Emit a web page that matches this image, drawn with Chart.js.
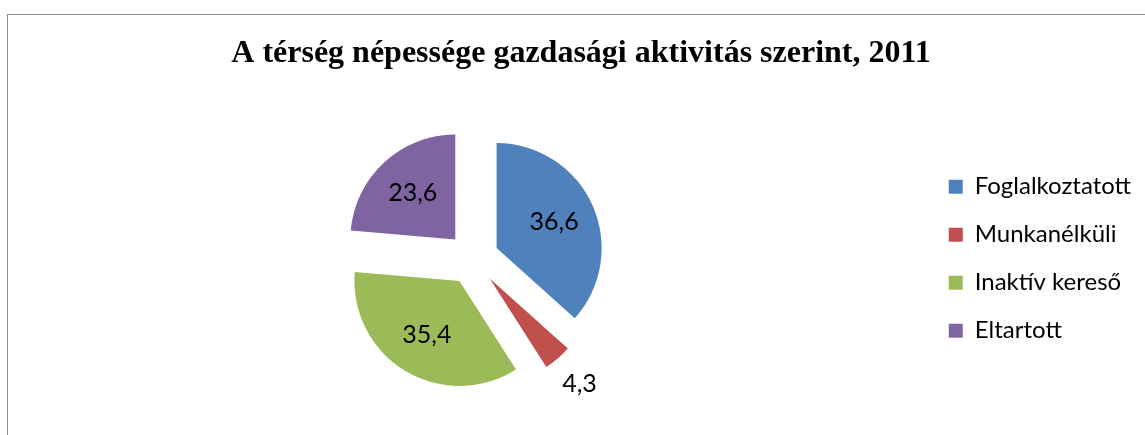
<!DOCTYPE html>
<html>
<head>
<meta charset="utf-8">
<script src="https://cdn.jsdelivr.net/npm/chart.js@4.4.1/dist/chart.umd.min.js"></script>
<style>
  html, body { margin: 0; padding: 0; background: #fff; overflow: hidden; }
  #frame { position: absolute; left: 7px; top: 14px; width: 1160px; height: 440px;
           border-left: 1px solid #8c8c8c; border-top: 1px solid #8c8c8c; }
  #wrap { position: absolute; left: 0; top: 0; width: 1148px; height: 420px; }
</style>
</head>
<body>
<div id="frame"><div id="wrap"><canvas id="chart"></canvas></div></div>
<script>
"use strict";

const chartTitle = 'A térség népessége gazdasági aktivitás szerint, 2011';
const categories = ['Foglalkoztatott', 'Munkanélküli', 'Inaktív kereső', 'Eltartott'];
const shares = [36.6, 4.3, 35.4, 23.6];
const colors = ['#4F81BD', '#C0504D', '#9BBB59', '#8064A2'];

const EXPLODE = 26;
const LABEL_FONT = '25px Lato';

/* format a number the hungarian way (decimal comma). */
const fmt = (v) => v.toFixed(1).replace('.', ',');

/* pulls every slice outward along its mid angle, then writes the values. */
const explodePlugin = {
    id: 'explode',
    beforeDatasetDraw(chart, args) {
        const ctx = chart.ctx;
        args.meta.data.forEach(arc => {
            const mid = (arc.startAngle + arc.endAngle) / 2;
            ctx.save();
            ctx.translate(Math.cos(mid) * EXPLODE, Math.sin(mid) * EXPLODE);
            arc.draw(ctx);
            ctx.restore();
        });
        return false;
    },
    afterDatasetsDraw(chart) {
        const ctx = chart.ctx;
        const meta = chart.getDatasetMeta(0);
        ctx.save();
        ctx.font = LABEL_FONT;
        ctx.fillStyle = '#000';
        ctx.textAlign = 'center';
        ctx.textBaseline = 'middle';
        meta.data.forEach((arc, i) => {
            const mid = (arc.startAngle + arc.endAngle) / 2;
            // small slices get their label outside
            const dist = EXPLODE + arc.outerRadius * (shares[i] < 10 ? 1.32 : 0.6);
            ctx.fillText(fmt(shares[i]), arc.x + Math.cos(mid) * dist, arc.y + Math.sin(mid) * dist);
        });
        ctx.restore();
    }
};

new Chart(document.getElementById('chart'), {
    type: 'pie',
    data: {
        labels: categories,
        datasets: [{
            data: shares,
            backgroundColor: colors,
            borderWidth: 0,
            radius: 105
        }]
    },
    options: {
        responsive: true,
        maintainAspectRatio: false,
        animation: false,
        events: [],
        layout: {
            padding: { left: 13, right: 15, top: 0, bottom: 0 }
        },
        plugins: {
            title: {
                display: true,
                text: chartTitle,
                color: '#000',
                font: { family: 'Liberation Serif', size: 32, weight: 'bold' },
                padding: { top: 20, bottom: 9 }
            },
            legend: {
                position: 'right',
                align: 'center',
                fullSize: false,
                labels: {
                    color: '#000',
                    boxWidth: 14,
                    boxHeight: 14,
                    padding: 24,
                    font: { family: 'Lato', size: 24 }
                }
            },
            tooltip: { enabled: false }
        }
    },
    plugins: [explodePlugin]
});
</script>
</body>
</html>
